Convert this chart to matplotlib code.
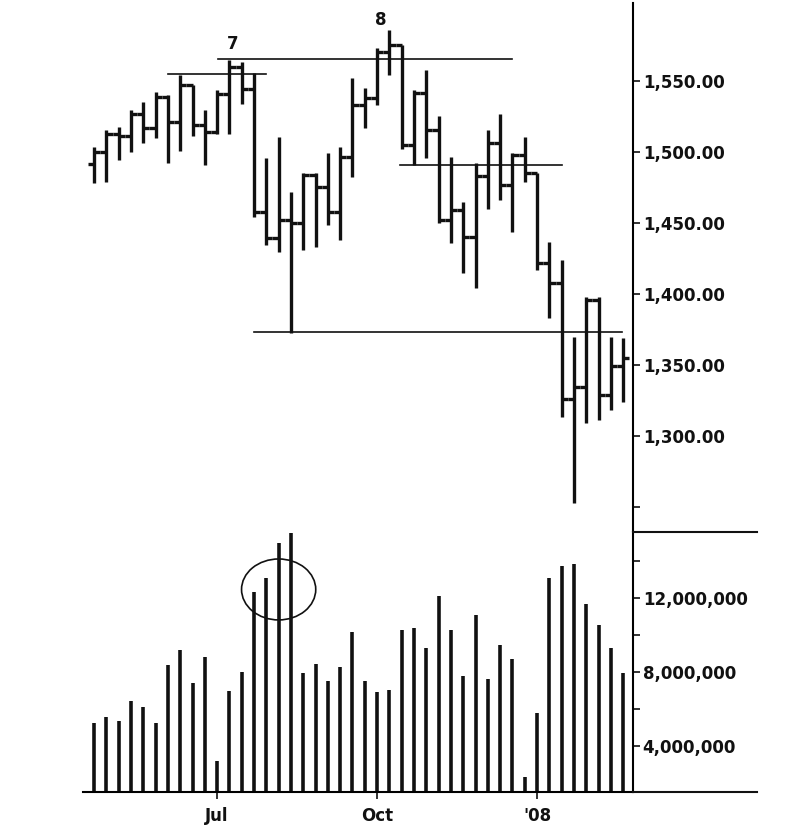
import numpy as np
import matplotlib
matplotlib.use("Agg")
import matplotlib.pyplot as plt
from matplotlib.patches import Ellipse
from matplotlib.lines import Line2D

plt.rcParams['font.family'] = ['DejaVu Sans']
plt.rcParams['font.weight'] = 'bold'

# weekly bars, Apr 2007 - Feb 2008
opens = [1491.5, 1500, 1513, 1511, 1527, 1517, 1539, 1521, 1547, 1519,
         1514, 1541, 1560, 1544, 1458, 1439.5, 1452, 1450, 1484, 1475.6,
         1458, 1496.7, 1533, 1537.8, 1570.7, 1575.4, 1505, 1541.8, 1515.5, 1452,
         1459, 1440.4, 1483, 1506, 1476.8, 1498, 1485, 1422, 1407.5, 1326,
         1334.7, 1396, 1329, 1349]
highs = [1503.8, 1515.5, 1517.8, 1529.6, 1535.5, 1542.5, 1540, 1554, 1547, 1529.6,
         1543.7, 1564.8, 1563.6, 1555.6, 1495.8, 1510.8, 1472, 1485, 1485, 1499,
         1503.8, 1552, 1545, 1573, 1586, 1575.4, 1543.7, 1557.7, 1525, 1496.7,
         1465, 1492, 1515.5, 1527, 1499, 1510.8, 1485, 1436.8, 1424, 1370,
         1398, 1398, 1370, 1369]
lows = [1478, 1479, 1494.4, 1500, 1506, 1509.6, 1492, 1501, 1511, 1491,
        1513, 1513, 1534, 1454.5, 1434.5, 1429.8, 1372.3, 1431, 1433.3, 1448.6,
        1438, 1482.6, 1516.7, 1533, 1554, 1502, 1491, 1495.6, 1450, 1435.7,
        1414.6, 1404, 1460, 1466, 1444, 1479, 1417, 1383, 1313.7, 1252.6,
        1309, 1311, 1318.3, 1324]
closes = [1500, 1513, 1511, 1527, 1517, 1539, 1521, 1547, 1519, 1514,
          1541, 1560, 1544, 1458, 1439.5, 1452, 1450, 1484, 1475.6, 1458,
          1496.7, 1533, 1537.8, 1570.7, 1575.4, 1505, 1541.8, 1515.5, 1452, 1459,
          1440.4, 1483, 1506, 1476.8, 1498, 1485, 1422, 1407.5, 1326, 1334.7,
          1396, 1329, 1349, 1354.7]
volume = [5.21, 5.54, 5.35, 6.44, 6.11, 5.21, 8.37, 9.18, 7.38, 8.79,
          3.19, 6.96, 8.01, 12.34, 13.07, 15.0, 15.5, 7.95, 8.42, 7.52,
          8.28, 10.17, 7.52, 6.92, 7.01, 10.27, 10.36, 9.27, 12.1, 10.27,
          7.77, 11.08, 7.59, 9.45, 8.68, 2.29, 5.79, 13.1, 13.75, 13.84,
          11.66, 10.54, 9.27, 7.95]   # millions

month_ticks = [10, 23, 36]
month_labels = ['Jul', 'Oct', "'08"]

price_ticks = [1250, 1300, 1350, 1400, 1450, 1500, 1550]
vol_ticks = [4, 6, 8, 10, 12, 14]

# support / resistance lines: level, from week, to week
level_vals = [1555, 1565.5, 1491, 1373]
level_from = [6.0, 10.1, 24.9, 13.0]
level_to = [14.0, 34.0, 38.0, 42.9]

x = np.arange(len(closes))
ink = '#111111'

fig = plt.figure(figsize=(8.02, 8.36), dpi=100)
ax = fig.add_axes([0.1035, 0.3636, 0.6858, 0.6328])
axv = fig.add_axes([0.1035, 0.0526, 0.6858, 0.311])

# price bars
ax.vlines(x, lows, highs, color=ink, lw=2.4)
ax.hlines(opens, x - 0.5, x, color=ink, lw=2.4, capstyle='butt')
ax.hlines(closes, x, x + 0.5, color=ink, lw=2.4, capstyle='butt')

for lv, a, b in zip(level_vals, level_from, level_to):
    ax.plot([a, b], [lv, lv], color=ink, lw=1.2)

ax.text(11.3, 1576, '7', ha='center', va='center', fontsize=12, color=ink)
ax.text(23.3, 1593, '8', ha='center', va='center', fontsize=12, color=ink)

ax.set_xlim(-0.9, 43.8)
ax.set_ylim(1232.4, 1604.9)
ax.yaxis.tick_right()
ax.set_yticks(price_ticks)
ax.set_yticklabels(['' if v == 1250 else f'{v:,.2f}' for v in price_ticks])
ax.set_xticks([])
for s in ['top', 'left', 'bottom']:
    ax.spines[s].set_visible(False)
ax.spines['right'].set_linewidth(1.5)
ax.tick_params(axis='y', direction='out', length=5, width=1.2, pad=2,
               labelsize=12, colors=ink)

# volume
axv.vlines(x, 0, volume, color=ink, lw=2.6)
axv.add_patch(Ellipse((15.0, 12.46), 6.03, 3.3, fill=False, ec=ink, lw=1.2))
axv.set_xlim(-0.9, 43.8)
axv.set_ylim(1.49, 15.57)
axv.yaxis.tick_right()
axv.set_yticks(vol_ticks)
axv.set_yticklabels([f'{v * 1e6:,.0f}' if v % 4 == 0 else '' for v in vol_ticks])
axv.set_xticks(month_ticks)
axv.set_xticklabels(month_labels)
for s in ['top', 'left']:
    axv.spines[s].set_visible(False)
axv.spines['right'].set_linewidth(1.5)
axv.spines['bottom'].set_linewidth(1.5)
axv.tick_params(direction='out', length=5, width=1.2, pad=2,
                labelsize=12, colors=ink)
axv.tick_params(axis='x', pad=6)

# separator and baseline run on under the labels
for yy in [532, 792]:
    fig.add_artist(Line2D([633 / 802, 757 / 802], [1 - yy / 836] * 2,
                          transform=fig.transFigure, color=ink, lw=1.5))

fig.savefig('out.png', dpi=100, facecolor='white')
